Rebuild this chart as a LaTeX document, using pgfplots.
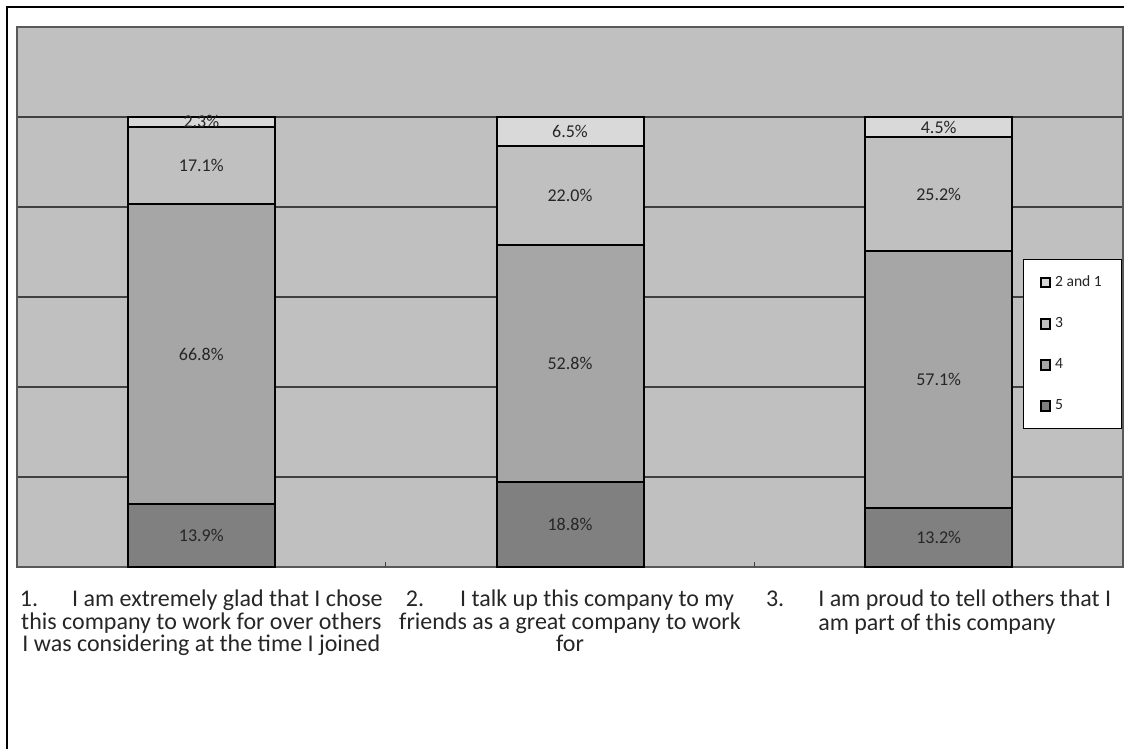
\documentclass[border=0pt]{standalone}
\usepackage{pgfplots}
\pgfplotsset{compat=1.18}
\usepackage{fontspec}
\setmainfont{Carlito}
\definecolor{bg}{HTML}{C0C0C0}
\definecolor{cA}{HTML}{D9D9D9}
\definecolor{cB}{HTML}{C0C0C0}
\definecolor{cC}{HTML}{A6A6A6}
\definecolor{cD}{HTML}{808080}
\definecolor{gridc}{HTML}{404040}
\definecolor{txt}{HTML}{262626}
\begin{document}
\begin{tikzpicture}
\useasboundingbox (0,0) rectangle (562pt,-374.5pt);
\draw[line width=1pt] (3.5pt,-380pt) -- (3.5pt,-3.5pt) -- (565pt,-3.5pt);
\begin{axis}[
  at={(8.5pt,-283.5pt)}, anchor=south west,
  scale only axis, width=553pt, height=270pt,
  ybar stacked, bar width=73.5pt,
  xmin=-0.5, xmax=2.5, ymin=0, ymax=120,
  axis background/.style={fill=bg},
  axis line style={draw=gray!70!black, line width=0.8pt},
  tick pos=left,
  ytick={0,20,40,60,80,100}, yticklabels={}, major tick length=0pt,
  ymajorgrids, major grid style={draw=gridc, line width=0.6pt},
  xtick={0,1,2},
  xticklabels={
    {1.\hspace{17pt}I am extremely glad that I chose\\this company to work for over others\\I was considering at the time I joined},
    {2.\hspace{18pt}I talk up this company to my\\friends as a great company to work\\for},
    {\begin{tabular}{@{}l@{\hspace{17pt}}l@{}}3.&I am proud to tell others that I\\&am part of this company\end{tabular}}
  },
  xticklabel style={align=center, font=\fontsize{12}{11.25}\selectfont, text=txt, yshift=-8pt},
  extra x ticks={0.5,1.5}, extra x tick labels={},
  extra x tick style={major tick length=2.5pt, tick align=inside, grid=none, tick style={draw=gridc, line width=0.6pt}},
  every axis plot/.append style={draw=black, line width=1pt},
  reverse legend,
  legend image code/.code={\draw[#1, draw=black, line width=1pt] (0pt,-2.4pt) rectangle (4.8pt,2.4pt);},
  legend style={at={(0.9096,0.5704)}, anchor=north west, draw=black, line width=0.5pt, fill=white,
    font=\fontsize{7.8}{9}\selectfont, text=txt, row sep=10pt, inner xsep=8pt, inner ysep=6pt},
  legend cell align=left,
]
\addplot[fill=cD] coordinates {(0,13.9) (1,18.8) (2,13.2)};
\addplot[fill=cC] coordinates {(0,66.8) (1,52.8) (2,57.1)};
\addplot[fill=cB] coordinates {(0,17.1) (1,22.0) (2,25.2)};
\addplot[fill=cA] coordinates {(0,2.3) (1,6.5) (2,4.5)};
\legend{5,4,3,2 and 1}
\end{axis}
\begin{axis}[
  at={(8.5pt,-283.5pt)}, anchor=south west,
  scale only axis, width=553pt, height=270pt,
  xmin=-0.5, xmax=2.5, ymin=0, ymax=120,
  hide axis, clip=false,
]
\addplot[draw=none, nodes near coords, point meta=explicit symbolic,
  every node near coord/.append style={anchor=center, font=\fontsize{9}{10}\selectfont, text=txt}]
  coordinates {
  (0,6.95) [13.9\%] (0,47.3) [66.8\%] (0,89.25) [17.1\%] (0,98.95) [2.3\%]
  (1,9.4) [18.8\%] (1,45.2) [52.8\%] (1,82.6) [22.0\%] (1,96.85) [6.5\%]
  (2,6.6) [13.2\%] (2,41.75) [57.1\%] (2,82.9) [25.2\%] (2,97.75) [4.5\%]
  };
\end{axis}
\end{tikzpicture}
\end{document}
